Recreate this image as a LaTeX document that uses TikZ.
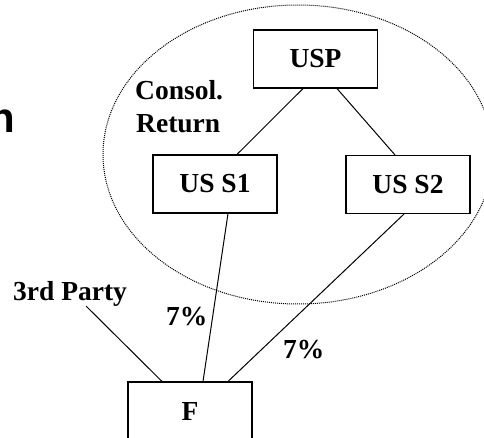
\documentclass[tikz,border=0pt]{standalone}
\usepackage{fontspec}
\setmainfont{Liberation Serif}
\newfontfamily\headsans{Liberation Sans}
\usetikzlibrary{calc}
\begin{document}
\begin{tikzpicture}[x=1pt,y=-1pt,
  ent/.style={draw=black, line width=1.1pt, minimum width=124pt, minimum height=58pt, inner sep=0pt,
    font=\fontsize{27.5}{33}\selectfont\bfseries},
  lbl/.style={inner sep=0pt, font=\fontsize{27.5}{33}\selectfont\bfseries},
  link/.style={draw=black, line width=1pt},
  grp/.style={draw=black, line width=1pt, dash pattern=on 1pt off 1pt}]
\useasboundingbox (0,0) rectangle (484,438);
\draw[grp] (298,154.5) ellipse [x radius=195, y radius=149.5];
\node[inner sep=0pt, anchor=base east, font=\fontsize{42}{50}\selectfont\headsans\bfseries] (ttl) at (15,133) {n};
\node[ent] (usp) at (315.5,59) {USP};
\node[ent] (s1) at (215,184) {US S1};
\node[ent] (s2) at (408,184.5) {US S2};
\node[ent] (f) at (190,411) {F};
\node[lbl, anchor=base west] (consol) at (135,100) {Consol.};
\node[lbl, anchor=base west] (ret) at (136,133) {Return};
\node[lbl, anchor=base west] (tp) at (13,300) {3rd Party};
\node[lbl, anchor=base west] (p1) at (166,325) {7\%};
\node[lbl, anchor=base west] (p2) at (283,358) {7\%};
\coordinate (tpend) at (86,306);
\draw[link] ([xshift=-12.5pt]usp.south) -- ([xshift=22pt]s1.north);
\draw[link] ([xshift=21.5pt]usp.south) -- ([xshift=-13pt]s2.north);
\draw[link] ([xshift=13pt]s1.south) -- ([xshift=13pt]f.north);
\draw[link] ([xshift=-4pt]s2.south) -- ([xshift=38pt]f.north);
\draw[link] (tpend) -- ([xshift=-28pt]f.north);
\end{tikzpicture}
\end{document}
